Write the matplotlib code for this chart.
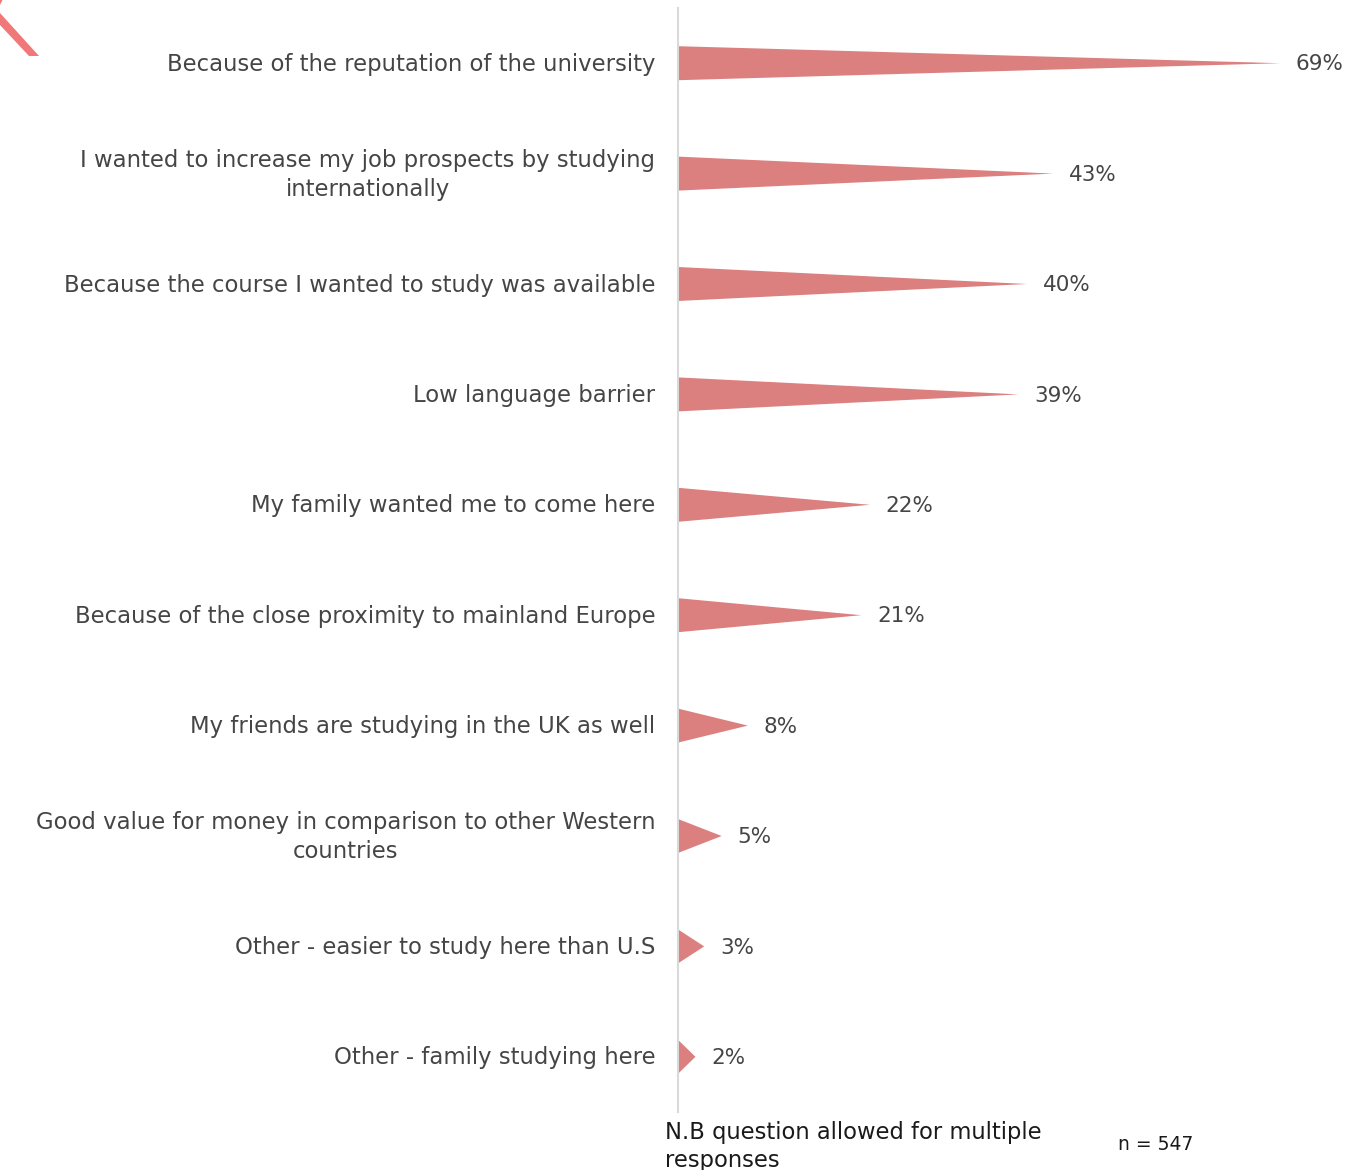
import matplotlib
matplotlib.use("Agg")
import matplotlib.pyplot as plt
from matplotlib.patches import Polygon

# Reasons for choosing to study in the UK (share of respondents)
reasons = [
    "Because of the reputation of the university",
    "I wanted to increase my job prospects by studying\ninternationally",
    "Because the course I wanted to study was available",
    "Low language barrier",
    "My family wanted me to come here",
    "Because of the close proximity to mainland Europe",
    "My friends are studying in the UK as well",
    "Good value for money in comparison to other Western\ncountries",
    "Other - easier to study here than U.S",
    "Other - family studying here",
]
shares = [69, 43, 40, 39, 22, 21, 8, 5, 3, 2]

TEXT = "#454545"
BAR = "#DB7F7F"
FONT = "DejaVu Sans"

W, H = 1368, 1170
fig = plt.figure(figsize=(W / 100, H / 100), dpi=100)

# axes: left edge sits on the vertical baseline
left_px, right_px, top_px, bot_px = 678, 1368, 8, 1112
ax = fig.add_axes([left_px / W, 1 - bot_px / H, (right_px - left_px) / W, (bot_px - top_px) / H])
px_per_pct = 8.725
ax.set_xlim(0, (right_px - left_px) / px_per_pct)
ax.set_ylim(len(reasons) - 0.5, -0.5)

half = 0.154
for i, (label, v) in enumerate(zip(reasons, shares)):
    tri = Polygon([(0, i - half), (v, i), (0, i + half)], closed=True,
                  facecolor=BAR, edgecolor="none")
    ax.add_patch(tri)
    ax.text(v + 1.8, i + 0.01, f"{v}%", ha="left", va="center", fontsize=15.5,
            color=TEXT, family=FONT)
    ax.text(-2.6, i + 0.01, label, ha="right", va="center", fontsize=16.4,
            color=TEXT, family=FONT, multialignment="center", linespacing=1.35)

for s in ["top", "right", "bottom"]:
    ax.spines[s].set_visible(False)
ax.spines["left"].set_color("#D9D9D9")
ax.spines["left"].set_linewidth(1.5)
ax.set_xticks([])
ax.set_yticks([])
ax.patch.set_alpha(0)

# footnotes
fig.text(665 / W, 1 - 1132 / H, "N.B question allowed for multiple",
         ha="left", va="center", fontsize=16.3, color="#1a1a1a", family=FONT)
fig.text(665 / W, 1 - 1160 / H, "responses",
         ha="left", va="center", fontsize=16.3, color="#1a1a1a", family=FONT)
fig.text(1156 / W, 1 - 1145 / H, "n = 547", ha="center", va="center",
         fontsize=13.5, color="#1a1a1a", family=FONT)

# corner accent stripes
def corner_poly(pts):
    return Polygon([(x / W, 1 - y / H) for x, y in pts], closed=True,
                   facecolor="#F07878", edgecolor="none", transform=fig.transFigure)

fig.add_artist(corner_poly([(0, 13), (39, 56), (29, 56), (0, 25)]))
fig.add_artist(corner_poly([(0, 0), (2.5, 0), (0, 5)]))

fig.savefig("out.png", dpi=100)
